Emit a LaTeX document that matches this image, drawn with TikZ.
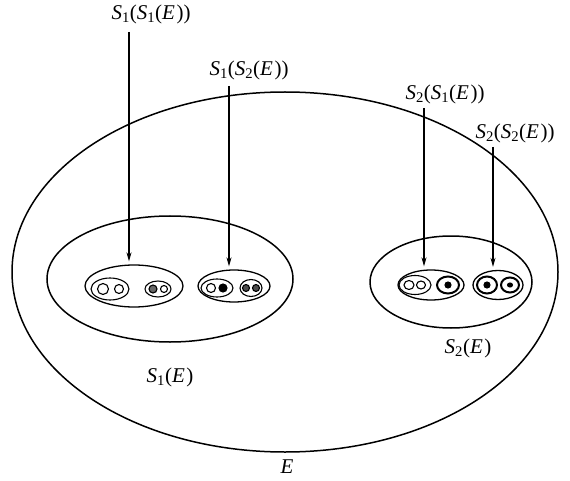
\documentclass[tikz,border=0pt]{standalone}
\usepackage{fontspec}
\setmainfont{Liberation Serif}
\usetikzlibrary{shapes.geometric,arrows.meta}
\newcommand{\Sx}[1]{\textit{S}\textsubscript{#1}}
\newcommand{\Ex}{\textit{E}\kern1.5pt}
\begin{document}
\begin{tikzpicture}[x=1pt,y=-1pt,
  ell/.style={draw, ellipse, line width=1.5pt, inner sep=0pt},
  sub/.style={draw, ellipse, line width=1.3pt, inner sep=0pt},
  tiny/.style={draw, ellipse, line width=1.1pt, inner sep=0pt},
  lab/.style={font=\fontsize{21}{24}\selectfont, inner sep=0pt},
  arr/.style={line width=1.2pt, -{Stealth[length=9pt,width=5pt]}}]
\useasboundingbox (0,0) rectangle (570,481);
% main ellipses
\node[ell, minimum width=546pt, minimum height=360pt] (E) at (285,272) {};
\node[ell, minimum width=246pt, minimum height=126pt] (s1) at (170,279) {};
\node[ell, minimum width=162pt, minimum height=92pt] (s2) at (451,282) {};
% second level
\node[sub, minimum width=98pt, minimum height=42pt] (s11) at (134,286) {};
\node[sub, minimum width=72pt, minimum height=32pt] (s12) at (234,286) {};
\node[sub, minimum width=66pt, minimum height=30pt] (s21) at (431,285) {};
\node[sub, minimum width=50pt, minimum height=29pt] (s22) at (498,285) {};
% third level in s11
\node[tiny, minimum width=38pt, minimum height=22pt] (s111) at (110,289) {};
\node[tiny, minimum width=11pt, minimum height=11pt] (s1111) at (103,289) {};
\node[tiny, minimum width=9pt, minimum height=9pt] (s1112) at (119,289) {};
\node[tiny, minimum width=26pt, minimum height=16pt] (s112) at (158,289) {};
\node[tiny, minimum width=8pt, minimum height=8pt, fill=black!60] (s1121) at (153,289) {};
\node[tiny, minimum width=7pt, minimum height=7pt] (s1122) at (164,289) {};
% third level in s12
\node[tiny, minimum width=32pt, minimum height=18pt] (s121) at (217,288) {};
\node[tiny, minimum width=9pt, minimum height=9pt] (s1211) at (211,288) {};
\node[tiny, minimum width=8pt, minimum height=8pt, fill=black] (s1212) at (223,288) {};
\node[tiny, minimum width=22pt, minimum height=17pt] (s122) at (251,288) {};
\node[tiny, minimum width=7pt, minimum height=7pt, fill=black!70] (s1221) at (246,288) {};
\node[tiny, minimum width=7pt, minimum height=7pt, fill=black!70] (s1222) at (256,288) {};
% third level in s21
\node[tiny, minimum width=32pt, minimum height=19pt] (s211) at (415,285) {};
\node[tiny, minimum width=10pt, minimum height=9pt] (s2111) at (409,285) {};
\node[tiny, minimum width=9pt, minimum height=8pt] (s2112) at (421,285) {};
\node[tiny, minimum width=22pt, minimum height=17pt, line width=2pt] (s212) at (448,285) {};
\node[tiny, minimum width=6pt, minimum height=6pt, fill=black] (s2121) at (448,285) {};
% third level in s22
\node[tiny, minimum width=20pt, minimum height=17pt, line width=2pt] (s221) at (487,285) {};
\node[tiny, minimum width=6pt, minimum height=6pt, fill=black] (s2211) at (487,285) {};
\node[tiny, minimum width=18pt, minimum height=15pt, line width=2pt] (s222) at (510,285) {};
\node[tiny, minimum width=5pt, minimum height=4pt, fill=black] (s2221) at (510,285) {};
% labels
\node[lab] (l11) at (151,14) {\Sx1(\Sx1(\Ex))};
\node[lab] (l12) at (249,70) {\Sx1(\Sx2(\Ex))};
\node[lab] (l21) at (445,94) {\Sx2(\Sx1(\Ex))};
\node[lab] (l22) at (515,133) {\Sx2(\Sx2(\Ex))};
\node[lab] (l1) at (170,377) {\Sx1(\Ex)};
\node[lab] (l2) at (468,348) {\Sx2(\Ex)};
\node[lab] (lE) at (287,467) {\textit{E}};
% arrows
\coordinate (t11) at (129,32);
\coordinate (t12) at (229,86);
\coordinate (t21) at (424,108);
\coordinate (t22) at (493,147);
\draw[arr, shorten >=3pt] (t11) -- (t11 |- s11.north);
\draw[arr, shorten >=3pt] (t12) -- (t12 |- s12.north);
\draw[arr, shorten >=3pt] (t21) -- (t21 |- s21.north);
\draw[arr, shorten >=3pt] (t22) -- (t22 |- s22.north);
\end{tikzpicture}
\end{document}
